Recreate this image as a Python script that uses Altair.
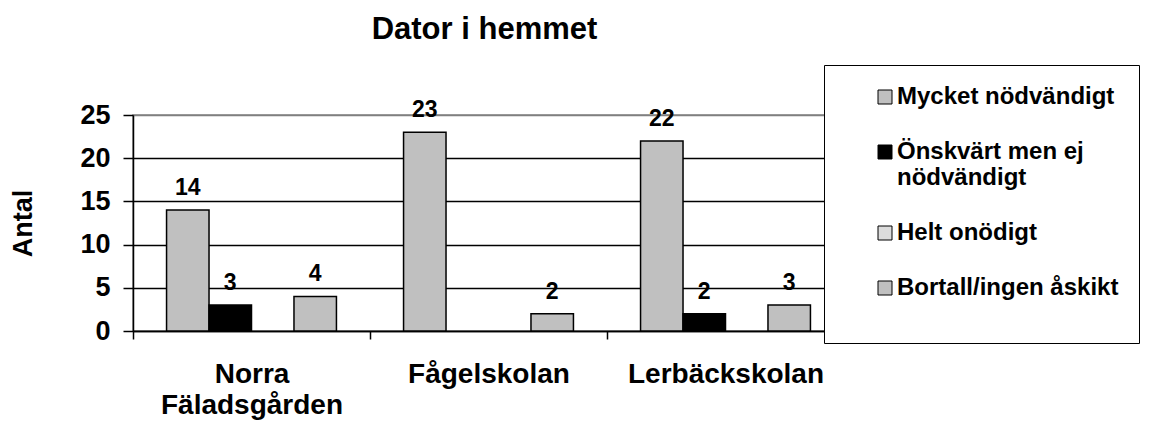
import altair as alt
import pandas as pd

schools = ["Norra Fäladsgården", "Fågelskolan", "Lerbäckskolan"]
series = ["Mycket nödvändigt", "Önskvärt men ej nödvändigt", "Helt onödigt", "Bortall/ingen åskikt"]
mycket = [14, 23, 22]
onskvart = [3, 0, 2]
helt = [0, 0, 0]
bortall = [4, 2, 3]
colors = ["#C0C0C0", "#000000", "#DCDCDC", "#C0C0C0"]
y_ticks = [0, 5, 10, 15, 20, 25]

rows = []
for s, vals in zip(series, [mycket, onskvart, helt, bortall]):
    for sch, v in zip(schools, vals):
        rows.append({"Skola": sch, "Svar": s, "Antal": v})
df = pd.DataFrame(rows)

FONT = "Liberation Sans"

base = alt.Chart(df).transform_filter("datum.Antal > 0").encode(
    x=alt.X(
        "Skola:N",
        sort=schools,
        scale=alt.Scale(domain=schools, paddingInner=0, paddingOuter=0),
        axis=alt.Axis(
            title=None, labelAngle=0, labelExpr="split(datum.label, ' ')",
            tickBand="extent", tickSize=8, tickColor="black", tickWidth=1.5,
            domainColor="black", domainWidth=1.5, grid=False,
            labelFont=FONT, labelFontSize=28, labelFontWeight="bold", labelColor="black",
            labelPadding=21, labelLineHeight=31, labelLimit=500,
        ),
    ),
    xOffset=alt.XOffset("Svar:N", sort=series,
                        scale=alt.Scale(domain=series, paddingInner=0, paddingOuter=0.79)),
    y=alt.Y(
        "Antal:Q",
        scale=alt.Scale(domain=[0, 25], nice=False),
        axis=alt.Axis(
            title="Antal", values=y_ticks, tickSize=10, tickColor="black", tickWidth=1.5,
            domainColor="black", domainWidth=1.5,
            gridColor={"condition": {"test": "datum.value == 25", "value": "#808080"}, "value": "black"},
            gridWidth=1.5,
            labelFont=FONT, labelFontSize=27, labelFontWeight="bold", labelColor="black",
            labelPadding=13,
            titleFont=FONT, titleFontSize=27, titleFontWeight="bold", titleColor="black",
            titlePadding=42,
        ),
    ),
)

bars = base.mark_bar(stroke="black", strokeWidth=1.5).encode(
    color=alt.Color(
        "Svar:N",
        scale=alt.Scale(domain=series, range=colors),
        legend=alt.Legend(
            title=" ", titleOrient="bottom", titleFontSize=10, titlePadding=13,
            orient="none", legendX=691, legendY=-50,
            strokeColor="black", fillColor="white", padding=20, rowPadding=31,
            symbolType="square", symbolSize=196, symbolStrokeColor="black",
            symbolStrokeWidth=1, symbolOffset=29, labelOffset=0,
            labelFont=FONT, labelFontSize=24, labelFontWeight="bold", labelColor="black",
            labelLimit=600,
            labelExpr="datum.label == 'Önskvärt men ej nödvändigt' ? ['Önskvärt men ej', 'nödvändigt'] : datum.label",
        ),
    )
)

labels = base.mark_text(
    baseline="bottom", dy=-10, font=FONT, fontSize=23, fontWeight="bold", color="black"
).encode(text="Antal:Q")

chart = (
    alt.layer(bars, labels)
    .properties(
        width=711, height=216,
        padding={"left": 125, "top": 107, "right": 308, "bottom": 91},
        autosize=alt.AutoSizeParams(type="none"),
        background="white",
        title=alt.TitleParams(
            "Dator i hemmet", font=FONT, fontSize=31, fontWeight="bold", color="black",
            anchor="middle", frame="group", offset=19, dx=-4,
        ),
    )
    .configure_view(stroke="#808080", strokeWidth=1.5)
)

chart.save("out.html", embed_options={"renderer": "svg", "actions": False})
